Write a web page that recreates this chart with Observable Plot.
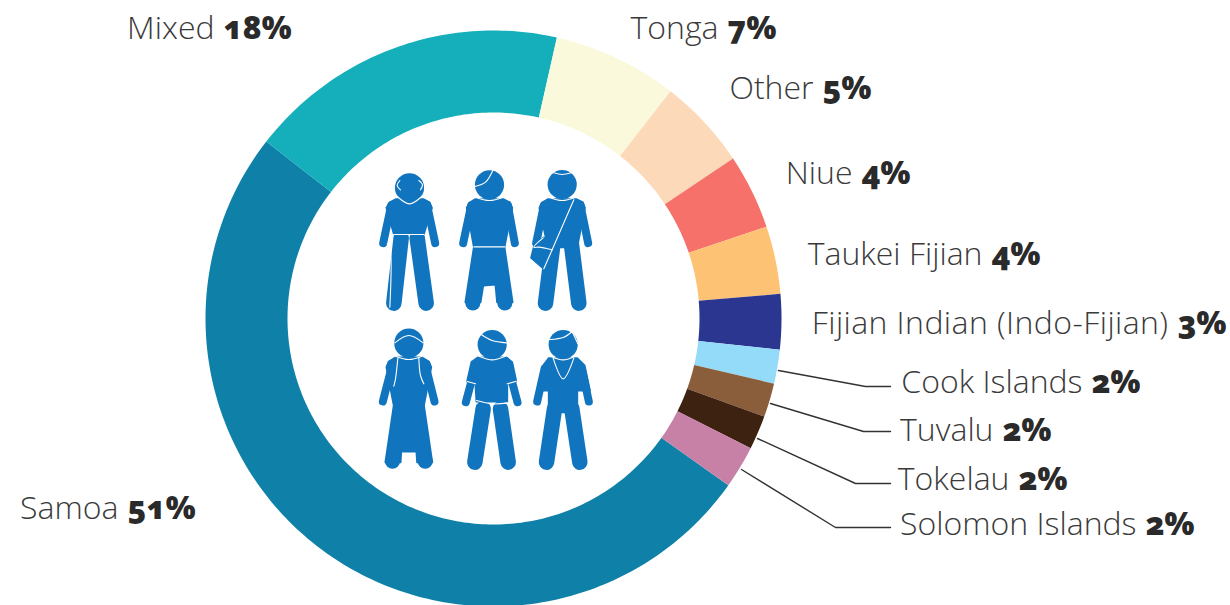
<!DOCTYPE html>
<html><head><meta charset="utf-8">
<script src="https://cdn.jsdelivr.net/npm/d3@7"></script>
<script src="https://cdn.jsdelivr.net/npm/@observablehq/plot@0.6"></script>
<style>
html,body{margin:0;padding:0;background:#fff}
svg{display:block}
.nm text,text.nm{font-variant-numeric:oldstyle-nums}
.wide text,text.wide{letter-spacing:.42px}
</style></head><body><div id="chart"></div>
<script>
// Data
const names = ["Samoa","Mixed","Tonga","Other","Niue","Taukei Fijian","Fijian Indian (Indo-Fijian)","Cook Islands","Tuvalu","Tokelau","Solomon Islands"];
const measured = [50.7,18.0,7.0,5.1,4.2,3.8,3.1,1.9,1.9,1.9,2.4];
const printed = ["51%","18%","7%","5%","4%","4%","3%","2%","2%","2%","2%"];
const colors = ["#0F81A8","#14AFBA","#FAF9DC","#FCD9B8","#F5716A","#FEC274","#2A3690","#94DBF9","#8A5D3B","#3D2211","#C881A6"];

// Layout
const cx = 493, cy = 318, rOut = 288, rIn = 206, startDeg = 125.4;
const labelX = [127,223,727,822,861,991,1177,1091,1002,1018,1145];
const labelY = [508,28,28,88,173,254,323,382,430,479,524];
const leaders = {
  "Cook Islands":[[778,370],[865,386],[890,386]],
  "Tuvalu":[[770,403],[863,431],[890,431]],
  "Tokelau":[[757,438],[855,483],[890,483]],
  "Solomon Islands":[[741,469],[835,527],[890,527]]
};
const labels = names.map((n,i)=>({name:n,pct:printed[i],x:labelX[i],y:labelY[i]}));

// Ring slices, built from the measured shares
const total = d3.sum(measured);
let acc = startDeg;
const slicePts = [];
names.forEach((n,i)=>{
  const a0 = acc, a1 = acc + measured[i]/total*360; acc = a1;
  const steps = Math.max(2, Math.ceil(a1-a0));
  const pt = (a,r)=>({name:n,x:cx+r*Math.sin(a*Math.PI/180),y:cy-r*Math.cos(a*Math.PI/180)});
  for(let s=0;s<=steps;s++) slicePts.push(pt(a0+(a1-a0)*s/steps,rOut));
  for(let s=steps;s>=0;s--) slicePts.push(pt(a0+(a1-a0)*s/steps,rIn));
});
const leaderPts = Object.entries(leaders).flatMap(([k,p])=>p.map(([x,y])=>({k,x,y})));

// Pictogram of six people, in crop units (1/3 px) from two row origins
const rows = [[360,150],[360,315]];
const heads = [[0,147,112],[0,387,103],[0,605,102],[1,145,83],[1,395,87],[1,608,87]];
const feet = [[0,337,457],[0,433,457],[1,96,437],[1,194,437]];
const arms = [
 [0,[[92,165],[68,278]]],[0,[[200,165],[224,278]]],
 [0,[[332,165],[308,278]]],[0,[[442,165],[463,278]]],
 [0,[[550,165],[527,278]]],[0,[[660,165],[683,278]]],
 [1,[[95,150],[67,258]]],[1,[[195,150],[222,258]]],
 [1,[[332,200],[316,260]]],[1,[[455,200],[471,260]]],
 [1,[[552,160],[530,258]]],[1,[[664,160],[685,258]]]
];
const legs = [
 [0,[[122,262],[100,458]]],[0,[[170,262],[197,458]]],
 [0,[[578,275],[555,458]]],[0,[[632,275],[655,458]]],
 [1,[[368,280],[343,440]]],[1,[[420,280],[443,440]]],
 [1,[[582,280],[558,440]]],[1,[[634,280],[658,440]]]
];
const bodies = [
 [0,[[107,146],[188,146],[207,156],[214,172],[190,250],[100,250],[78,172],[88,156]]],
 [0,[[345,146],[428,146],[448,156],[455,172],[432,288],[340,288],[319,172],[328,156]]],
 [0,[[340,292],[432,292],[456,455],[410,455],[405,402],[368,405],[360,455],[315,455]]],
 [0,[[563,146],[647,146],[667,156],[673,172],[650,290],[562,290],[537,172],[545,156]]],
 [0,[[548,262],[580,270],[550,355],[512,322],[520,290]]],
 [1,[[105,126],[185,126],[205,138],[212,155],[190,270],[215,440],[170,440],[168,408],[122,408],[120,440],[75,440],[100,270],[78,155],[85,138]]],
 [1,[[352,126],[438,126],[455,140],[467,197],[440,205],[440,258],[348,258],[345,205],[320,198],[333,140]]],
 [1,[[565,128],[650,128],[672,150],[688,225],[650,225],[650,290],[565,290],[565,225],[530,225],[548,150]]]
];
const details = [
 [0,[[107,135],[147,160],[187,135]]],[0,[[118,90],[110,105],[120,118]]],[0,[[175,90],[186,102],[180,118]]],
 [0,[[100,252],[190,252]]],[0,[[345,140],[387,150],[428,140]]],[0,[[343,108],[375,95],[397,60]]],
 [0,[[340,289],[432,289]]],[0,[[565,140],[605,150],[645,140]]],[0,[[580,67],[605,72],[632,67]]],
 [0,[[640,148],[550,355]]],[0,[[548,262],[520,290],[535,290],[575,298]]],[0,[[80,280],[88,290],[88,470]]],
 [1,[[103,82],[145,60],[188,82]]],[1,[[112,128],[105,190],[100,212]]],[1,[[175,128],[180,180],[190,205]]],[1,[[105,122],[145,132],[185,122]]],
 [1,[[362,57],[395,75],[438,82]]],[1,[[355,122],[395,133],[435,122]]],[1,[[320,198],[345,205]]],[1,[[440,205],[467,197]]],[1,[[348,255],[395,265],[440,263]]],
 [1,[[567,72],[610,65],[635,48]]],[1,[[635,48],[652,85]]],[1,[[570,122],[608,133],[645,122]]],[1,[[578,128],[608,190],[640,128]]]
];
const px = (r,p)=>({x:rows[r][0]+p[0]/3,y:rows[r][1]+p[1]/3});
const toLines = list=>list.flatMap(([r,pts],i)=>pts.map(p=>({id:i,...px(r,p)})));
const blue = "#1174BE";
const isWide = d=>d.name.length>20;

const nameText = {fontFamily:"Open Sans",fontWeight:300,fontSize:32,fill:"#3a3a3a",textAnchor:"end",lineAnchor:"middle",x:d=>d.x-9,y:"y",text:"name"};
const chart = Plot.plot({
  width:1230,height:605,margin:0,
  x:{axis:null,domain:[0,1230],range:[0,1230]},
  y:{axis:null,domain:[0,605],range:[0,605]},
  color:{domain:names,range:colors},
  style:{background:"#fff"},
  marks:[
    Plot.line(slicePts,{x:"x",y:"y",z:"name",fill:"name",stroke:null}),
    Plot.line(leaderPts,{x:"x",y:"y",z:"k",stroke:"#333",strokeWidth:1.4}),
    Plot.line(toLines(bodies),{x:"x",y:"y",z:"id",fill:blue,stroke:blue,strokeWidth:2,curve:"linear-closed"}),
    Plot.line(toLines(arms),{x:"x",y:"y",z:"id",stroke:blue,strokeWidth:8,strokeLinecap:"round"}),
    Plot.line(toLines(legs),{x:"x",y:"y",z:"id",stroke:blue,strokeWidth:15.5,strokeLinecap:"round"}),
    Plot.dot(feet.map(([r,a,b])=>px(r,[a,b])),{x:"x",y:"y",r:7.6,fill:blue}),
    Plot.dot(heads.map(([r,a,b])=>px(r,[a,b])),{x:"x",y:"y",r:14.6,fill:blue}),
    Plot.line(toLines(details),{x:"x",y:"y",z:"id",stroke:"#fff",strokeWidth:1.1,curve:"catmull-rom"}),
    Plot.text(labels.filter(d=>!isWide(d)),nameText),
    Plot.text(labels.filter(isWide),{...nameText,className:"wide"}),
    Plot.text(labels,{x:"x",y:"y",text:"pct",textAnchor:"start",lineAnchor:"middle",fontFamily:"Open Sans",fontWeight:800,fontSize:31.5,fill:"#2a2a2a",className:"nm"})
  ]
});
document.getElementById("chart").append(chart);
</script></body></html>
